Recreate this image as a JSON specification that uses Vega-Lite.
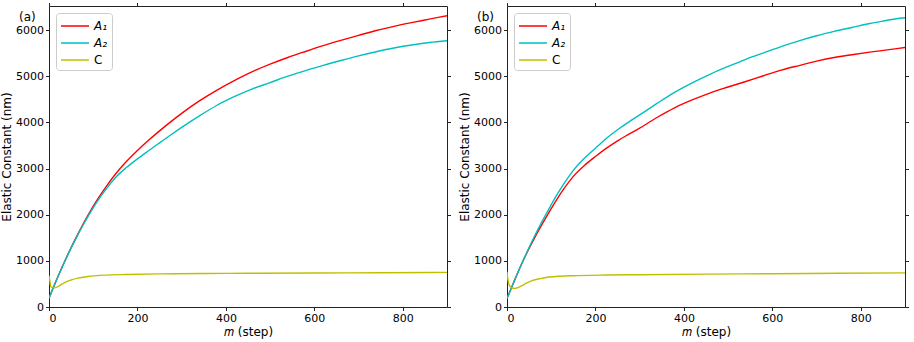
{
  "$schema": "https://vega.github.io/schema/vega-lite/v6.json",
  "background": "white",
  "padding": {"left": 0, "top": 1, "right": 3, "bottom": 1},
  "autosize": {"type": "pad"},
  "bounds": "flush",
  "spacing": 60,
  "config": {
    "font": "DejaVu Sans",
    "view": {"stroke": "#222222", "strokeWidth": 1},
    "axis": {"domain": false, "grid": false, "ticks": true, "tickColor": "#222222", "tickSize": 3.5, "tickWidth": 1,
      "labelFont": "DejaVu Sans", "labelFontSize": 11, "labelColor": "black", "labelPadding": 2,
      "titleFont": "DejaVu Sans", "titleFontSize": 12, "titleFontWeight": "normal", "titleColor": "black"},
    "legend": {"orient": "top-left", "offset": 7, "fillColor": "rgba(255,255,255,0.85)", "strokeColor": "#cccccc", "cornerRadius": 3,
      "padding": 4, "labelFont": "DejaVu Sans", "labelFontSize": 12, "labelColor": "black", "rowPadding": 2,
      "symbolType": "M-1.75,0H1.75", "symbolSize": 256, "symbolStrokeWidth": 1.5, "symbolOffset": 6, "labelOffset": 10}
  },
  "datasets": {
    "d": [
      {"panel": "a", "series": "A1", "m": 0, "value": 190}, {"panel": "a", "series": "A1", "m": 15, "value": 540}, {"panel": "a", "series": "A1", "m": 30, "value": 870}, {"panel": "a", "series": "A1", "m": 45, "value": 1185}, {"panel": "a", "series": "A1", "m": 60, "value": 1480}, {"panel": "a", "series": "A1", "m": 75, "value": 1760}, {"panel": "a", "series": "A1", "m": 90, "value": 2020}, {"panel": "a", "series": "A1", "m": 110, "value": 2335}, {"panel": "a", "series": "A1", "m": 130, "value": 2620}, {"panel": "a", "series": "A1", "m": 150, "value": 2875}, {"panel": "a", "series": "A1", "m": 175, "value": 3150}, {"panel": "a", "series": "A1", "m": 200, "value": 3390}, {"panel": "a", "series": "A1", "m": 225, "value": 3610}, {"panel": "a", "series": "A1", "m": 250, "value": 3815}, {"panel": "a", "series": "A1", "m": 275, "value": 4010}, {"panel": "a", "series": "A1", "m": 300, "value": 4195}, {"panel": "a", "series": "A1", "m": 340, "value": 4465}, {"panel": "a", "series": "A1", "m": 380, "value": 4700}, {"panel": "a", "series": "A1", "m": 420, "value": 4910}, {"panel": "a", "series": "A1", "m": 460, "value": 5100}, {"panel": "a", "series": "A1", "m": 500, "value": 5260}, {"panel": "a", "series": "A1", "m": 540, "value": 5405}, {"panel": "a", "series": "A1", "m": 580, "value": 5535}, {"panel": "a", "series": "A1", "m": 620, "value": 5660}, {"panel": "a", "series": "A1", "m": 660, "value": 5775}, {"panel": "a", "series": "A1", "m": 700, "value": 5885}, {"panel": "a", "series": "A1", "m": 740, "value": 5990}, {"panel": "a", "series": "A1", "m": 780, "value": 6080}, {"panel": "a", "series": "A1", "m": 820, "value": 6160}, {"panel": "a", "series": "A1", "m": 860, "value": 6235}, {"panel": "a", "series": "A1", "m": 900, "value": 6310},

      {"panel": "a", "series": "A2", "m": 0, "value": 190}, {"panel": "a", "series": "A2", "m": 15, "value": 540}, {"panel": "a", "series": "A2", "m": 30, "value": 868}, {"panel": "a", "series": "A2", "m": 45, "value": 1178}, {"panel": "a", "series": "A2", "m": 60, "value": 1465}, {"panel": "a", "series": "A2", "m": 75, "value": 1738}, {"panel": "a", "series": "A2", "m": 90, "value": 1990}, {"panel": "a", "series": "A2", "m": 110, "value": 2300}, {"panel": "a", "series": "A2", "m": 130, "value": 2565}, {"panel": "a", "series": "A2", "m": 150, "value": 2800}, {"panel": "a", "series": "A2", "m": 175, "value": 3020}, {"panel": "a", "series": "A2", "m": 200, "value": 3210}, {"panel": "a", "series": "A2", "m": 225, "value": 3385}, {"panel": "a", "series": "A2", "m": 250, "value": 3555}, {"panel": "a", "series": "A2", "m": 275, "value": 3725}, {"panel": "a", "series": "A2", "m": 300, "value": 3890}, {"panel": "a", "series": "A2", "m": 340, "value": 4140}, {"panel": "a", "series": "A2", "m": 380, "value": 4370}, {"panel": "a", "series": "A2", "m": 420, "value": 4560}, {"panel": "a", "series": "A2", "m": 460, "value": 4725}, {"panel": "a", "series": "A2", "m": 500, "value": 4860}, {"panel": "a", "series": "A2", "m": 540, "value": 5000}, {"panel": "a", "series": "A2", "m": 580, "value": 5120}, {"panel": "a", "series": "A2", "m": 620, "value": 5235}, {"panel": "a", "series": "A2", "m": 660, "value": 5340}, {"panel": "a", "series": "A2", "m": 700, "value": 5440}, {"panel": "a", "series": "A2", "m": 740, "value": 5530}, {"panel": "a", "series": "A2", "m": 780, "value": 5610}, {"panel": "a", "series": "A2", "m": 820, "value": 5675}, {"panel": "a", "series": "A2", "m": 860, "value": 5730}, {"panel": "a", "series": "A2", "m": 900, "value": 5768},

      {"panel": "a", "series": "C", "m": 0, "value": 680}, {"panel": "a", "series": "C", "m": 2, "value": 560}, {"panel": "a", "series": "C", "m": 4, "value": 440}, {"panel": "a", "series": "C", "m": 8, "value": 425}, {"panel": "a", "series": "C", "m": 13, "value": 415}, {"panel": "a", "series": "C", "m": 20, "value": 440}, {"panel": "a", "series": "C", "m": 30, "value": 500}, {"panel": "a", "series": "C", "m": 40, "value": 550}, {"panel": "a", "series": "C", "m": 50, "value": 585}, {"panel": "a", "series": "C", "m": 65, "value": 625}, {"panel": "a", "series": "C", "m": 88, "value": 660}, {"panel": "a", "series": "C", "m": 125, "value": 690}, {"panel": "a", "series": "C", "m": 175, "value": 705}, {"panel": "a", "series": "C", "m": 250, "value": 718}, {"panel": "a", "series": "C", "m": 350, "value": 725}, {"panel": "a", "series": "C", "m": 450, "value": 730}, {"panel": "a", "series": "C", "m": 600, "value": 737}, {"panel": "a", "series": "C", "m": 750, "value": 743}, {"panel": "a", "series": "C", "m": 900, "value": 750},

      {"panel": "b", "series": "A1", "m": 0, "value": 185}, {"panel": "b", "series": "A1", "m": 15, "value": 530}, {"panel": "b", "series": "A1", "m": 30, "value": 865}, {"panel": "b", "series": "A1", "m": 45, "value": 1175}, {"panel": "b", "series": "A1", "m": 60, "value": 1455}, {"panel": "b", "series": "A1", "m": 75, "value": 1720}, {"panel": "b", "series": "A1", "m": 90, "value": 1970}, {"panel": "b", "series": "A1", "m": 110, "value": 2290}, {"panel": "b", "series": "A1", "m": 130, "value": 2580}, {"panel": "b", "series": "A1", "m": 150, "value": 2830}, {"panel": "b", "series": "A1", "m": 175, "value": 3065}, {"panel": "b", "series": "A1", "m": 200, "value": 3260}, {"panel": "b", "series": "A1", "m": 225, "value": 3440}, {"panel": "b", "series": "A1", "m": 250, "value": 3600}, {"panel": "b", "series": "A1", "m": 275, "value": 3740}, {"panel": "b", "series": "A1", "m": 300, "value": 3875}, {"panel": "b", "series": "A1", "m": 340, "value": 4110}, {"panel": "b", "series": "A1", "m": 380, "value": 4320}, {"panel": "b", "series": "A1", "m": 420, "value": 4490}, {"panel": "b", "series": "A1", "m": 460, "value": 4640}, {"panel": "b", "series": "A1", "m": 500, "value": 4765}, {"panel": "b", "series": "A1", "m": 540, "value": 4885}, {"panel": "b", "series": "A1", "m": 580, "value": 5010}, {"panel": "b", "series": "A1", "m": 620, "value": 5130}, {"panel": "b", "series": "A1", "m": 660, "value": 5230}, {"panel": "b", "series": "A1", "m": 700, "value": 5325}, {"panel": "b", "series": "A1", "m": 740, "value": 5405}, {"panel": "b", "series": "A1", "m": 780, "value": 5465}, {"panel": "b", "series": "A1", "m": 820, "value": 5520}, {"panel": "b", "series": "A1", "m": 860, "value": 5570}, {"panel": "b", "series": "A1", "m": 900, "value": 5620},

      {"panel": "b", "series": "A2", "m": 0, "value": 185}, {"panel": "b", "series": "A2", "m": 15, "value": 530}, {"panel": "b", "series": "A2", "m": 30, "value": 867}, {"panel": "b", "series": "A2", "m": 45, "value": 1187}, {"panel": "b", "series": "A2", "m": 60, "value": 1490}, {"panel": "b", "series": "A2", "m": 75, "value": 1775}, {"panel": "b", "series": "A2", "m": 90, "value": 2040}, {"panel": "b", "series": "A2", "m": 110, "value": 2385}, {"panel": "b", "series": "A2", "m": 130, "value": 2690}, {"panel": "b", "series": "A2", "m": 150, "value": 2960}, {"panel": "b", "series": "A2", "m": 175, "value": 3220}, {"panel": "b", "series": "A2", "m": 200, "value": 3440}, {"panel": "b", "series": "A2", "m": 225, "value": 3655}, {"panel": "b", "series": "A2", "m": 250, "value": 3840}, {"panel": "b", "series": "A2", "m": 275, "value": 4005}, {"panel": "b", "series": "A2", "m": 300, "value": 4160}, {"panel": "b", "series": "A2", "m": 340, "value": 4415}, {"panel": "b", "series": "A2", "m": 380, "value": 4655}, {"panel": "b", "series": "A2", "m": 420, "value": 4860}, {"panel": "b", "series": "A2", "m": 460, "value": 5045}, {"panel": "b", "series": "A2", "m": 500, "value": 5210}, {"panel": "b", "series": "A2", "m": 540, "value": 5365}, {"panel": "b", "series": "A2", "m": 580, "value": 5505}, {"panel": "b", "series": "A2", "m": 620, "value": 5640}, {"panel": "b", "series": "A2", "m": 660, "value": 5765}, {"panel": "b", "series": "A2", "m": 700, "value": 5875}, {"panel": "b", "series": "A2", "m": 740, "value": 5970}, {"panel": "b", "series": "A2", "m": 780, "value": 6055}, {"panel": "b", "series": "A2", "m": 820, "value": 6140}, {"panel": "b", "series": "A2", "m": 860, "value": 6210}, {"panel": "b", "series": "A2", "m": 880, "value": 6245}, {"panel": "b", "series": "A2", "m": 900, "value": 6265},

      {"panel": "b", "series": "C", "m": 0, "value": 765}, {"panel": "b", "series": "C", "m": 2, "value": 600}, {"panel": "b", "series": "C", "m": 5, "value": 470}, {"panel": "b", "series": "C", "m": 10, "value": 420}, {"panel": "b", "series": "C", "m": 17, "value": 400}, {"panel": "b", "series": "C", "m": 25, "value": 420}, {"panel": "b", "series": "C", "m": 35, "value": 470}, {"panel": "b", "series": "C", "m": 45, "value": 520}, {"panel": "b", "series": "C", "m": 58, "value": 575}, {"panel": "b", "series": "C", "m": 75, "value": 615}, {"panel": "b", "series": "C", "m": 88, "value": 640}, {"panel": "b", "series": "C", "m": 110, "value": 660}, {"panel": "b", "series": "C", "m": 148, "value": 678}, {"panel": "b", "series": "C", "m": 224, "value": 693}, {"panel": "b", "series": "C", "m": 300, "value": 700}, {"panel": "b", "series": "C", "m": 450, "value": 712}, {"panel": "b", "series": "C", "m": 600, "value": 720}, {"panel": "b", "series": "C", "m": 750, "value": 730}, {"panel": "b", "series": "C", "m": 900, "value": 740}
    ]
  },
  "data": {"name": "d"},
  "resolve": {"legend": {"color": "independent"}},
  "hconcat": [
    {
      "width": 398, "height": 301,
      "title": {"text": "(a)", "anchor": "start", "frame": "group", "offset": -22, "dx": -30, "fontSize": 12, "fontWeight": "normal", "font": "DejaVu Sans", "color": "black"},
      "transform": [{"filter": "datum.panel == 'a'"}],
      "resolve": {"axis": {"x": "independent", "y": "independent"}},
      "layer": [
        {
          "mark": {"type": "line", "strokeWidth": 1.4, "clip": true, "interpolate": "monotone"},
          "encoding": {
            "x": {"field": "m", "type": "quantitative", "scale": {"domain": [0, 900], "nice": false, "zero": false},
              "axis": {"orient": "bottom", "values": [0, 200, 400, 600, 800], "format": "d", "title": "𝑚 (step)", "labelPadding": 1.5, "titlePadding": 3}},
            "y": {"field": "value", "type": "quantitative", "scale": {"domain": [0, 6520], "nice": false},
              "axis": {"orient": "left", "values": [0, 1000, 2000, 3000, 4000, 5000, 6000], "format": "d", "title": "Elastic Constant (nm)", "titlePadding": 2}},
            "color": {"field": "series", "type": "nominal",
              "scale": {"domain": ["A1", "A2", "C"], "range": ["#ff0000", "#00bfbf", "#bfbf00"]},
              "legend": {"title": null, "labelExpr": "datum.value == 'A1' ? 'A₁\u00a0\u00a0\u00a0' : datum.value == 'A2' ? 'A₂\u00a0\u00a0\u00a0' : 'C\u00a0\u00a0\u00a0'",
                "labelFontStyle": {"expr": "datum.value == 'C' ? 'normal' : 'italic'"}}}
          }
        },
        {
          "mark": {"type": "line", "opacity": 0},
          "encoding": {
            "x": {"field": "m", "type": "quantitative", "scale": {"domain": [0, 900], "nice": false, "zero": false},
              "axis": {"orient": "top", "values": [0, 200, 400, 600, 800], "labels": false, "title": null}},
            "y": {"field": "value", "type": "quantitative", "scale": {"domain": [0, 6520], "nice": false},
              "axis": {"orient": "right", "values": [0, 1000, 2000, 3000, 4000, 5000, 6000], "labels": false, "title": null}},
            "detail": {"field": "series", "type": "nominal"}
          }
        }
      ]
    },
    {
      "width": 398, "height": 301,
      "title": {"text": "(b)", "anchor": "start", "frame": "group", "offset": -22, "dx": -30, "fontSize": 12, "fontWeight": "normal", "font": "DejaVu Sans", "color": "black"},
      "transform": [{"filter": "datum.panel == 'b'"}],
      "resolve": {"axis": {"x": "independent", "y": "independent"}},
      "layer": [
        {
          "mark": {"type": "line", "strokeWidth": 1.4, "clip": true, "interpolate": "monotone"},
          "encoding": {
            "x": {"field": "m", "type": "quantitative", "scale": {"domain": [0, 900], "nice": false, "zero": false},
              "axis": {"orient": "bottom", "values": [0, 200, 400, 600, 800], "format": "d", "title": "𝑚 (step)", "labelPadding": 1.5, "titlePadding": 3}},
            "y": {"field": "value", "type": "quantitative", "scale": {"domain": [0, 6520], "nice": false},
              "axis": {"orient": "left", "values": [0, 1000, 2000, 3000, 4000, 5000, 6000], "format": "d", "title": "Elastic Constant (nm)", "titlePadding": 2}},
            "color": {"field": "series", "type": "nominal",
              "scale": {"domain": ["A1", "A2", "C"], "range": ["#ff0000", "#00bfbf", "#bfbf00"]},
              "legend": {"title": null, "labelExpr": "datum.value == 'A1' ? 'A₁\u00a0\u00a0\u00a0' : datum.value == 'A2' ? 'A₂\u00a0\u00a0\u00a0' : 'C\u00a0\u00a0\u00a0'",
                "labelFontStyle": {"expr": "datum.value == 'C' ? 'normal' : 'italic'"}}}
          }
        },
        {
          "mark": {"type": "line", "opacity": 0},
          "encoding": {
            "x": {"field": "m", "type": "quantitative", "scale": {"domain": [0, 900], "nice": false, "zero": false},
              "axis": {"orient": "top", "values": [0, 200, 400, 600, 800], "labels": false, "title": null}},
            "y": {"field": "value", "type": "quantitative", "scale": {"domain": [0, 6520], "nice": false},
              "axis": {"orient": "right", "values": [0, 1000, 2000, 3000, 4000, 5000, 6000], "labels": false, "title": null}},
            "detail": {"field": "series", "type": "nominal"}
          }
        }
      ]
    }
  ]
}
